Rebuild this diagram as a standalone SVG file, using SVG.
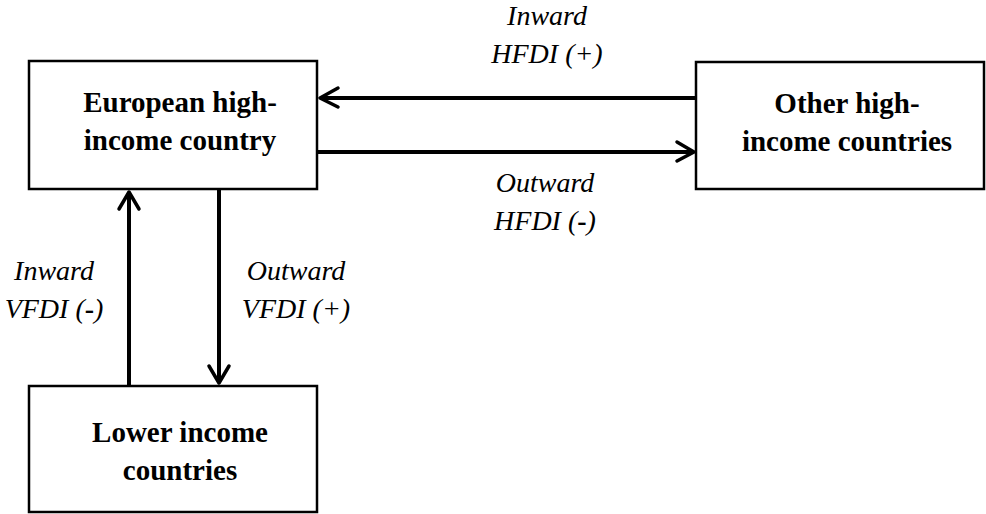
<svg xmlns="http://www.w3.org/2000/svg" width="986" height="514" viewBox="0 0 986 514">
<style>
.box{fill:#fff;stroke:#000;stroke-width:2.5}
.nt{font-weight:700;font-size:29px;text-anchor:middle;fill:#000}
.lb{font-style:italic;font-size:28px;text-anchor:middle;fill:#000}
.mn{font-style:normal;font-weight:700}
.ln{stroke:#000;stroke-width:4;fill:none}
.hd{stroke:#000;stroke-width:3.5;fill:none;stroke-linecap:round;stroke-linejoin:round}
</style>
<rect width="986" height="514" fill="#fff"/>
<g font-family="Liberation Serif, Times New Roman, Times, serif">
<g id="european">
<rect class="box" x="29" y="61" width="288" height="128"/>
<text class="nt" x="180" y="112">European high-</text>
<text class="nt" x="180" y="150">income country</text>
</g>
<g id="other">
<rect class="box" x="696" y="62" width="288" height="127"/>
<text class="nt" x="847" y="113">Other high-</text>
<text class="nt" x="847" y="151">income countries</text>
</g>
<g id="lower">
<rect class="box" x="29" y="386" width="288" height="126"/>
<text class="nt" x="180" y="442">Lower income</text>
<text class="nt" x="180" y="480">countries</text>
</g>
<g id="connectors">
<line class="ln" x1="696" y1="98" x2="320" y2="98"/>
<polyline class="hd" points="338,88 320,98 338,107"/>
<line class="ln" x1="317" y1="152" x2="693" y2="152"/>
<polyline class="hd" points="677,142 694,152 677,161"/>
<line class="ln" x1="129" y1="386" x2="129" y2="192"/>
<polyline class="hd" points="119,209 129,192 139,209"/>
<line class="ln" x1="219" y1="189" x2="219" y2="383"/>
<polyline class="hd" points="209,366 219,383 229,366"/>
</g>
<g id="labels">
<text class="lb" x="547" y="25">Inward</text>
<text class="lb" x="547" y="63">HFDI (+)</text>
<text class="lb" x="545" y="192">Outward</text>
<text class="lb" x="545" y="230">HFDI (<tspan class="mn">-</tspan>)</text>
<text class="lb" x="54" y="280">Inward</text>
<text class="lb" x="54" y="318">VFDI (<tspan class="mn">-</tspan>)</text>
<text class="lb" x="296" y="280">Outward</text>
<text class="lb" x="296" y="318">VFDI (+)</text>
</g>
</g>
</svg>
